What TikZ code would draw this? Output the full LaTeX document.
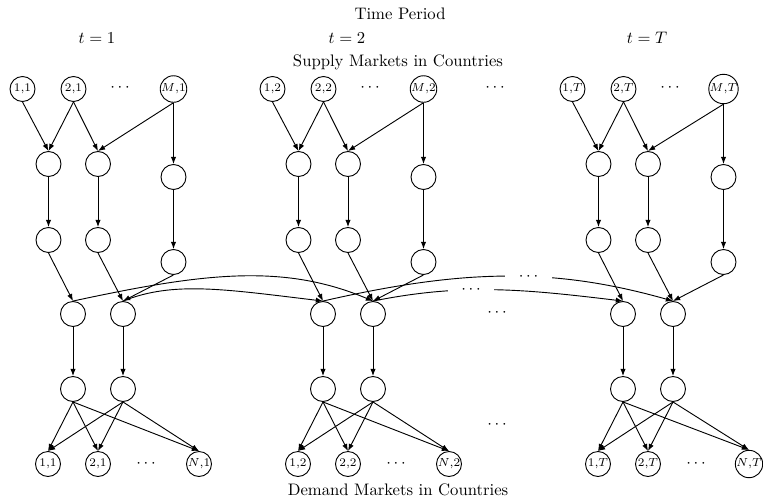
\documentclass[tikz,border=0pt]{standalone}
\usetikzlibrary{arrows.meta}
\begin{document}
\begin{tikzpicture}[x=0.6pt,y=-0.6pt,
  mkt/.style={circle,draw,line width=0.55pt,minimum size=15pt,inner sep=0pt,font=\scriptsize},
  hub/.style={circle,draw,line width=0.55pt,minimum size=15pt,inner sep=0pt},
  arr/.style={-{Latex[length=4.3pt,width=3.2pt]},line width=0.55pt},
  gapdots/.style={fill=white,inner xsep=8pt,inner ysep=1pt}]
\useasboundingbox (0,0) rectangle (763,498);

% headings
\node (title)  at (400,14)  {Time Period};
\node (supply) at (398,62)  {Supply Markets in Countries};
\node (demand) at (398,490) {Demand Markets in Countries};

% one network per time period
\foreach \k/\ox/\t in {1/0/1,2/250/2,3/550/T}{
  \node (tl-\k) at ({\ox+97},38) {$t=\t$};
  % supply markets
  \node[mkt] (S1-\k) at ({\ox+22.5},89) {$1{,}\t$};
  \node[mkt] (S2-\k) at ({\ox+73.5},89) {$2{,}\t$};
  \node      (sd-\k) at ({\ox+120},88)  {$\cdots$};
  \node[mkt] (SM-\k) at ({\ox+173.5},89) {$M{,}\t$};
  % intermediate nodes
  \node[hub] (P1-\k) at ({\ox+48.5},164) {};
  \node[hub] (P2-\k) at ({\ox+98},164) {};
  \node[hub] (P3-\k) at ({\ox+173.5},177) {};
  \node[hub] (Q1-\k) at ({\ox+48.5},240) {};
  \node[hub] (Q2-\k) at ({\ox+98},240) {};
  \node[hub] (Q3-\k) at ({\ox+173.5},262) {};
  \node[hub] (R1-\k) at ({\ox+73},314) {};
  \node[hub] (R2-\k) at ({\ox+123},314) {};
  \node[hub] (U1-\k) at ({\ox+73},389) {};
  \node[hub] (U2-\k) at ({\ox+123},389) {};
  % demand markets
  \node[mkt] (D1-\k) at ({\ox+48},464) {$1{,}\t$};
  \node[mkt] (D2-\k) at ({\ox+98},464) {$2{,}\t$};
  \node      (dd-\k) at ({\ox+146},464) {$\cdots$};
  \node[mkt] (DN-\k) at ({\ox+199},464) {$N{,}\t$};
  % links
  \draw[arr] (S1-\k.south) -- (P1-\k.north);
  \draw[arr] (S2-\k.south) -- (P1-\k.north);
  \draw[arr] (S2-\k.south) -- (P2-\k.north);
  \draw[arr] (SM-\k.south) -- (P2-\k.north);
  \draw[arr] (SM-\k.south) -- (P3-\k.north);
  \draw[arr] (P1-\k.south) -- (Q1-\k.north);
  \draw[arr] (P2-\k.south) -- (Q2-\k.north);
  \draw[arr] (P3-\k.south) -- (Q3-\k.north);
  \draw[arr] (Q1-\k.south) -- (R1-\k.north);
  \draw[arr] (Q2-\k.south) -- (R2-\k.north);
  \draw[arr] (Q3-\k.south) -- (R2-\k.north);
  \draw[arr] (R1-\k.south) -- (U1-\k.north);
  \draw[arr] (R2-\k.south) -- (U2-\k.north);
  \draw[arr] (U1-\k.south) -- (D1-\k.north);
  \draw[arr] (U1-\k.south) -- (D2-\k.north);
  \draw[arr] (U1-\k.south) -- (DN-\k.north);
  \draw[arr] (U2-\k.south) -- (D1-\k.north);
  \draw[arr] (U2-\k.south) -- (D2-\k.north);
  \draw[arr] (U2-\k.south) -- (DN-\k.north);
}

% periods left out between t=2 and t=T
\node (gapS) at (495,88)  {$\cdots$};
\node (gapR) at (497,313) {$\cdots$};
\node (gapU) at (497,425) {$\cdots$};

% links carried over from one period to a later one
\draw[arr] (R1-1.north) .. controls +(130,-28) and +(-90,-38) .. (R2-2.north);
\draw[arr] (R2-1.north) .. controls +(50,-20) and +(-100,-12) .. (R1-2.north);
\draw[arr] (R1-2.north) .. controls +(140,-32) and +(-120,-34)
  .. node[gapdots,pos=0.57] (cdU) {$\cdots$} (R2-3.north);
\draw[arr] (R2-2.north) .. controls +(90,-18) and +(-100,-12)
  .. node[gapdots,pos=0.4] (cdL) {$\cdots$} (R1-3.north);
\end{tikzpicture}
\end{document}
